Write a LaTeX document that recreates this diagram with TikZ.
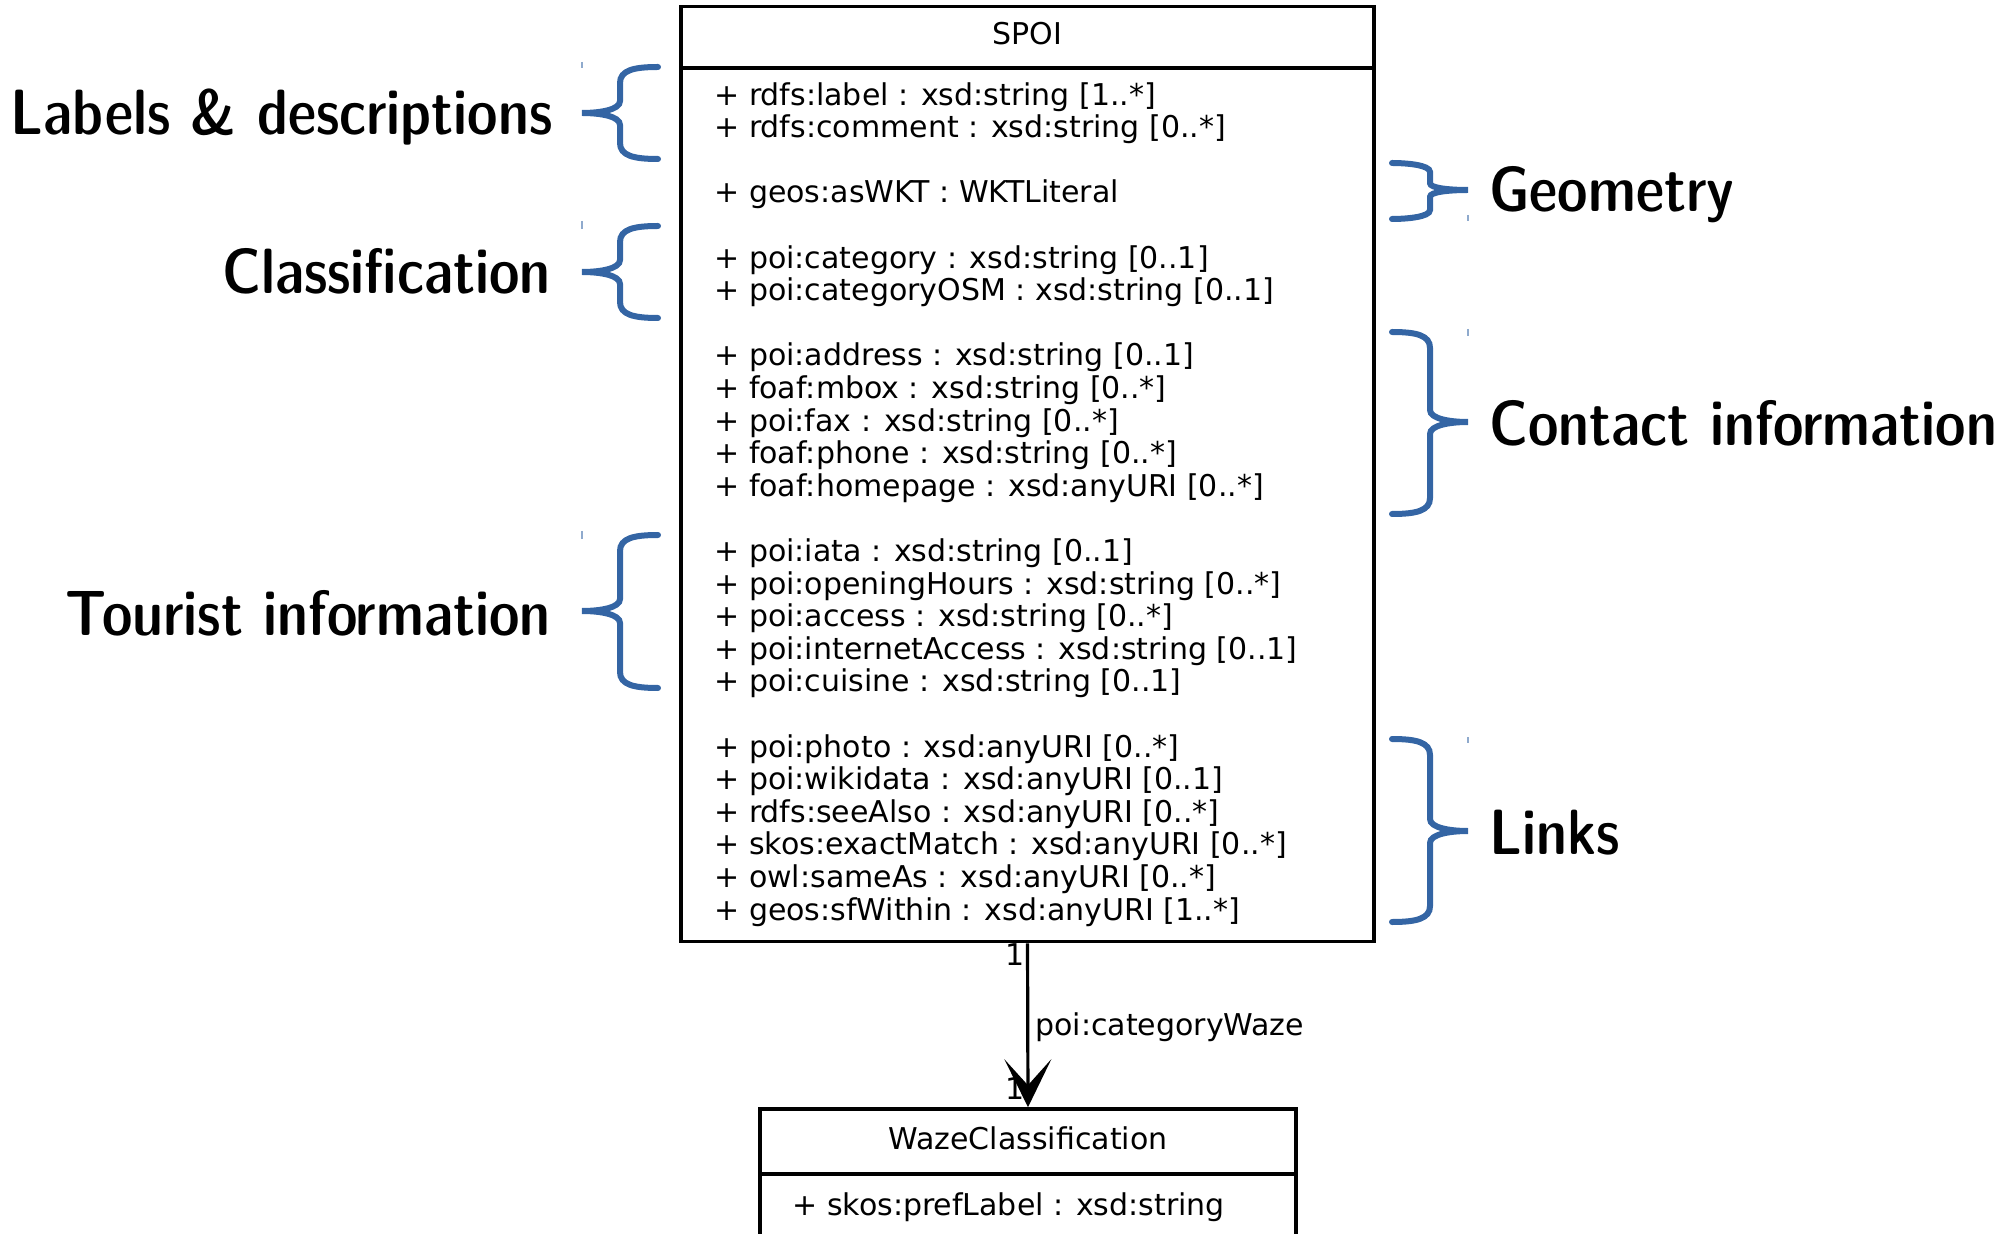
\documentclass[tikz,border=0pt]{standalone}
\usepackage{fontspec}
\newfontfamily\dejavu{DejaVu Sans}
\usetikzlibrary{arrows.meta}
\definecolor{bracecol}{RGB}{52,101,164}
\newcommand\LBr[4]{\draw[brc] (658,#1) .. controls ({658-#4*1.5},#1) and (620,{#1+#4*0.2}) .. (620,{#1+#4}) -- (620,{#2-#4*0.75}) .. controls (620,{#2-#4*0.2}) and (600,#2) .. (582,#2) .. controls (600,#2) and (620,{#2+#4*0.2}) .. (620,{#2+#4*0.75}) -- (620,{#3-#4}) .. controls (620,{#3-#4*0.2}) and ({658-#4*1.5},#3) .. (658,#3);}
\newcommand\RBr[4]{\draw[brc] (1392,#1) .. controls ({1392+#4*1.5},#1) and (1430,{#1+#4*0.2}) .. (1430,{#1+#4}) -- (1430,{#2-#4*0.75}) .. controls (1430,{#2-#4*0.2}) and (1450,#2) .. (1468,#2) .. controls (1450,#2) and (1430,{#2+#4*0.2}) .. (1430,{#2+#4*0.75}) -- (1430,{#3-#4}) .. controls (1430,{#3-#4*0.2}) and ({1392+#4*1.5},#3) .. (1392,#3);}
\begin{document}
\begin{tikzpicture}[x=0.5pt,y=-0.5pt,
  umlbox/.style={draw=black, line width=1.8pt, rectangle, inner sep=0pt},
  umltext/.style={font=\dejavu\fontsize{15}{16.3}\selectfont, inner sep=0pt},
  biglabel/.style={font=\usefont{TU}{lmss}{sbc}{n}\fontsize{32}{36}\selectfont, inner sep=0pt},
  brc/.style={draw=bracecol, line width=3pt, line cap=round},
  tickmark/.style={draw=bracecol!55, line width=0.6pt}]
\useasboundingbox (0,0) rectangle (2016,1234);
\clip (0,0) rectangle (2016,1234);

% SPOI class
\node (spoi) [umlbox, minimum width=346.5pt, minimum height=467.5pt] at (1027.5,474) {};
\draw[line width=1.8pt] (682,68) -- (1373,68);
\node (spoititle) [umltext, anchor=base] at (1027.5,45) {SPOI};
\node (attrs) [umltext, anchor=base west, align=left] at (714,920) {%
+ rdfs:label : xsd:string [1..*]\\
+ rdfs:comment : xsd:string [0..*]\\[16.3pt]
+ geos:asWKT : WKTLiteral\\[16.3pt]
+ poi:category : xsd:string [0..1]\\
+ poi:categoryOSM : xsd:string [0..1]\\[16.3pt]
+ poi:address : xsd:string [0..1]\\
+ foaf:mbox : xsd:string [0..*]\\
+ poi:fax : xsd:string [0..*]\\
+ foaf:phone : xsd:string [0..*]\\
+ foaf:homepage : xsd:anyURI [0..*]\\[16.3pt]
+ poi:iata : xsd:string [0..1]\\
+ poi:openingHours : xsd:string [0..*]\\
+ poi:access : xsd:string [0..*]\\
+ poi:internetAccess : xsd:string [0..1]\\
+ poi:cuisine : xsd:string [0..1]\\[16.3pt]
+ poi:photo : xsd:anyURI [0..*]\\
+ poi:wikidata : xsd:anyURI [0..1]\\
+ rdfs:seeAlso : xsd:anyURI [0..*]\\
+ skos:exactMatch : xsd:anyURI [0..*]\\
+ owl:sameAs : xsd:anyURI [0..*]\\
+ geos:sfWithin : xsd:anyURI [1..*]};

% WazeClassification class
\node (waze) [umlbox, minimum width=268pt, minimum height=66pt] at (1028,1175) {};
\draw[line width=1.8pt] (760,1174) -- (1296,1174);
\node (wazetitle) [umltext, anchor=base] at (1028,1149) {WazeClassification};
\node (wazeattr) [umltext, anchor=base west] at (792,1215) {+ skos:prefLabel : xsd:string};

% association
\node (m1) [umltext, anchor=base east] at (1025,965) {1};
\node (m2) [umltext, anchor=base east] at (1025,1099) {1};
\draw[line width=1.6pt, -{Stealth[length=24pt, width=23.5pt, inset=13pt]}] (spoi.south) -- (waze.north)
  node[pos=0.5, umltext, anchor=base west, xshift=3pt, yshift=-5pt] (assoc) {poi:categoryWaze};

% braces
\LBr{67}{113}{159}{16}
\LBr{226}{272}{318}{16}
\LBr{535}{611}{688}{16}
\RBr{163}{190}{219}{9}
\RBr{332}{422}{514}{16}
\RBr{739}{831}{922}{16}

% tiny marks
\draw[tickmark] (582,62) -- (582,68);
\draw[tickmark] (582,221) -- (582,229);
\draw[tickmark] (582,531) -- (582,539);
\draw[tickmark] (1468,215) -- (1468,221);
\draw[tickmark] (1468,329) -- (1468,336);
\draw[tickmark] (1468,737) -- (1468,743);

% labels
\node (lab1) [biglabel, anchor=base east] at (553,135) {Labels \& descriptions};
\node (lab2) [biglabel, anchor=base east] at (551,294) {Classification};
\node (lab3) [biglabel, anchor=base east] at (551,635) {Tourist information};
\node (lab4) [biglabel, anchor=base west] at (1489,212) {Geometry};
\node (lab5) [biglabel, anchor=base west] at (1489,446) {Contact information};
\node (lab6) [biglabel, anchor=base west] at (1489,854) {Links};
\end{tikzpicture}
\end{document}
